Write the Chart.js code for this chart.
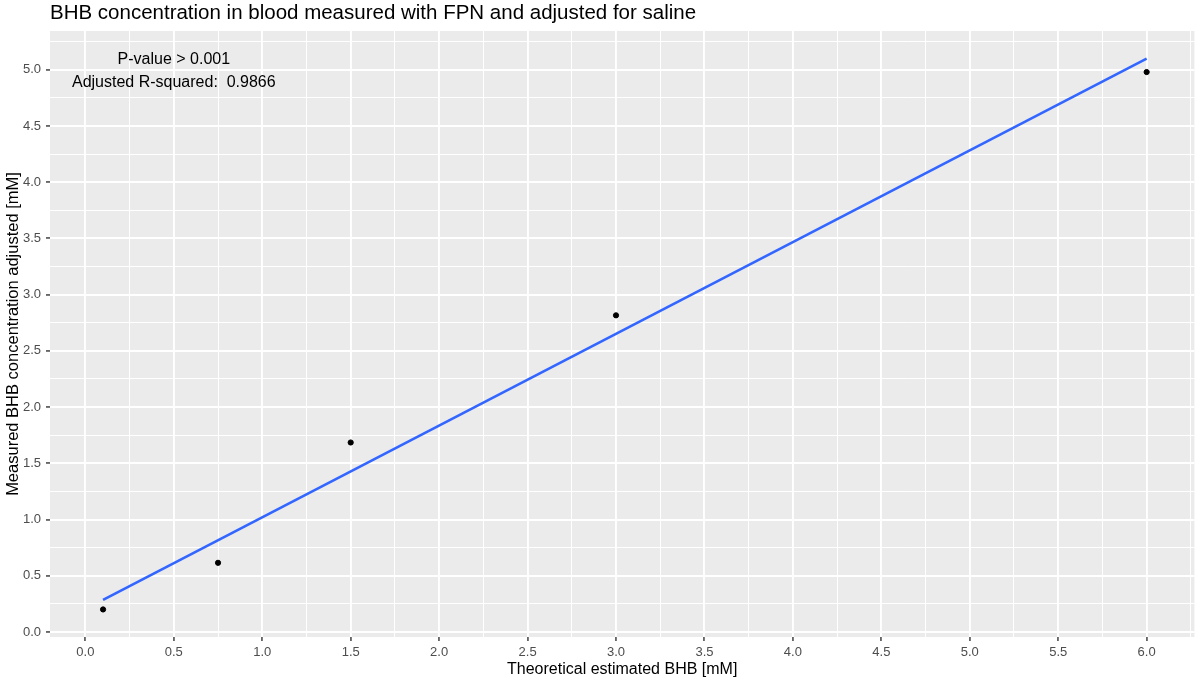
<!DOCTYPE html>
<html>
<head>
<meta charset="utf-8">
<script src="https://cdn.jsdelivr.net/npm/chart.js@4/dist/chart.umd.min.js"></script>
<style>
  html, body { margin: 0; padding: 0; background: #ffffff; overflow: hidden; }
  #wrap { width: 1198px; height: 681px; }
  canvas { display: block; }
</style>
</head>
<body>
<div id="wrap"><canvas id="bhbChart" width="1198" height="681"></canvas></div>
<script>
// Measured points: theoretical BHB vs measured (adjusted) BHB, mM
const theoretical = [0.1, 0.75, 1.5, 3.0, 6.0];
const measured = [0.2, 0.615, 1.685, 2.816, 4.98];

// Endpoints of the fitted regression line
const fitX = [0.1, 6.0];
const fitY = [0.285, 5.10];

// Axis breaks
const xMajor = [0, 0.5, 1, 1.5, 2, 2.5, 3, 3.5, 4, 4.5, 5, 5.5, 6];
const xMinor = [0.25, 0.75, 1.25, 1.75, 2.25, 2.75, 3.25, 3.75, 4.25, 4.75, 5.25, 5.75, 6.25];
const yMajor = [0, 0.5, 1, 1.5, 2, 2.5, 3, 3.5, 4, 4.5, 5];
const yMinor = [0.25, 0.75, 1.25, 1.75, 2.25, 2.75, 3.25, 3.75, 4.25, 4.75, 5.25];

// Annotation lines placed at (0.5, 5.0)
const noteLines = ['P-value > 0.001', 'Adjusted R-squared:  0.9866'];
const notePos = [0.5, 5.0];

const FONT = "'Liberation Sans', Arial, sans-serif";

function isMajor(list, v) {
  return list.some(m => Math.abs(m - v) < 1e-9);
}

function buildTicks(scale, major, minor) {
  scale.ticks = major.concat(minor).sort((a, b) => a - b).map(v => ({ value: v }));
}

// Grey panel behind the grid
const panelBackground = {
  id: 'panelBackground',
  beforeDraw(chart) {
    const { ctx, chartArea } = chart;
    ctx.save();
    ctx.fillStyle = '#EBEBEB';
    ctx.fillRect(chartArea.left, chartArea.top, chartArea.right - chartArea.left, chartArea.bottom - chartArea.top);
    ctx.restore();
  }
};

// Model statistics text
const statsNote = {
  id: 'statsNote',
  afterDatasetsDraw(chart) {
    const { ctx } = chart;
    const x = chart.scales.x.getPixelForValue(notePos[0]);
    const y = chart.scales.y.getPixelForValue(notePos[1]);
    ctx.save();
    ctx.fillStyle = '#000000';
    ctx.font = '16px ' + FONT;
    ctx.textAlign = 'center';
    ctx.textBaseline = 'middle';
    const step = 22.5;
    const start = y - step * (noteLines.length - 1) / 2 + 1.5;
    noteLines.forEach((t, i) => ctx.fillText(t, x, start + i * step));
    ctx.restore();
  }
};

const ctx = document.getElementById('bhbChart').getContext('2d');
new Chart(ctx, {
  type: 'scatter',
  data: {
    datasets: [
      {
        label: 'Measured',
        data: theoretical.map((v, i) => ({ x: v, y: measured[i] })),
        backgroundColor: '#000000',
        borderColor: '#000000',
        pointRadius: 2.6,
        pointHoverRadius: 2.6,
        showLine: false
      },
      {
        label: 'Fit',
        data: fitX.map((v, i) => ({ x: v, y: fitY[i] })),
        borderColor: '#3366FF',
        borderWidth: 2.6,
        pointRadius: 0,
        showLine: true,
        fill: false
      }
    ]
  },
  options: {
    responsive: false,
    animation: false,
    events: [],
    layout: { padding: { left: 0, right: 0, top: 0, bottom: 0 } },
    plugins: {
      legend: { display: false },
      tooltip: { enabled: false },
      title: {
        display: true,
        fullSize: false,
        align: 'start',
        text: 'BHB concentration in blood measured with FPN and adjusted for saline',
        color: '#000000',
        font: { family: FONT, size: 20.5, weight: 'normal' },
        padding: { top: 1, bottom: 5.4 }
      }
    },
    scales: {
      x: {
        type: 'linear',
        min: -0.2,
        max: 6.27,
        afterBuildTicks: s => buildTicks(s, xMajor, xMinor),
        afterFit: s => { s.height = 44; },
        border: { display: false },
        grid: {
          color: '#FFFFFF',
          lineWidth: c => isMajor(xMajor, c.tick.value) ? 1.9 : 1,
          tickColor: c => isMajor(xMajor, c.tick.value) ? '#333333' : 'rgba(0,0,0,0)',
          tickWidth: 1.4,
          tickLength: 4
        },
        ticks: {
          autoSkip: false,
          maxRotation: 0,
          padding: 4,
          color: '#4D4D4D',
          font: { family: FONT, size: 13 },
          callback: v => isMajor(xMajor, v) ? v.toFixed(1) : ''
        },
        title: {
          display: true,
          text: 'Theoretical estimated BHB [mM]',
          color: '#000000',
          font: { family: FONT, size: 16 },
          padding: { top: 0, bottom: 1.4 }
        }
      },
      y: {
        type: 'linear',
        min: -0.045,
        max: 5.345,
        afterBuildTicks: s => buildTicks(s, yMajor, yMinor),
        afterFit: s => { s.width = 50; },
        border: { display: false },
        grid: {
          color: '#FFFFFF',
          lineWidth: c => isMajor(yMajor, c.tick.value) ? 1.9 : 1,
          tickColor: c => isMajor(yMajor, c.tick.value) ? '#333333' : 'rgba(0,0,0,0)',
          tickWidth: 1.4,
          tickLength: 4
        },
        ticks: {
          autoSkip: false,
          padding: 5,
          color: '#4D4D4D',
          font: { family: FONT, size: 13 },
          callback: v => isMajor(yMajor, v) ? v.toFixed(1) : ''
        },
        title: {
          display: true,
          text: 'Measured BHB concentration adjusted [mM]',
          color: '#000000',
          font: { family: FONT, size: 16.5 },
          padding: { top: 3.1, bottom: 0 }
        }
      }
    }
  },
  plugins: [panelBackground, statsNote]
});
</script>
</body>
</html>
